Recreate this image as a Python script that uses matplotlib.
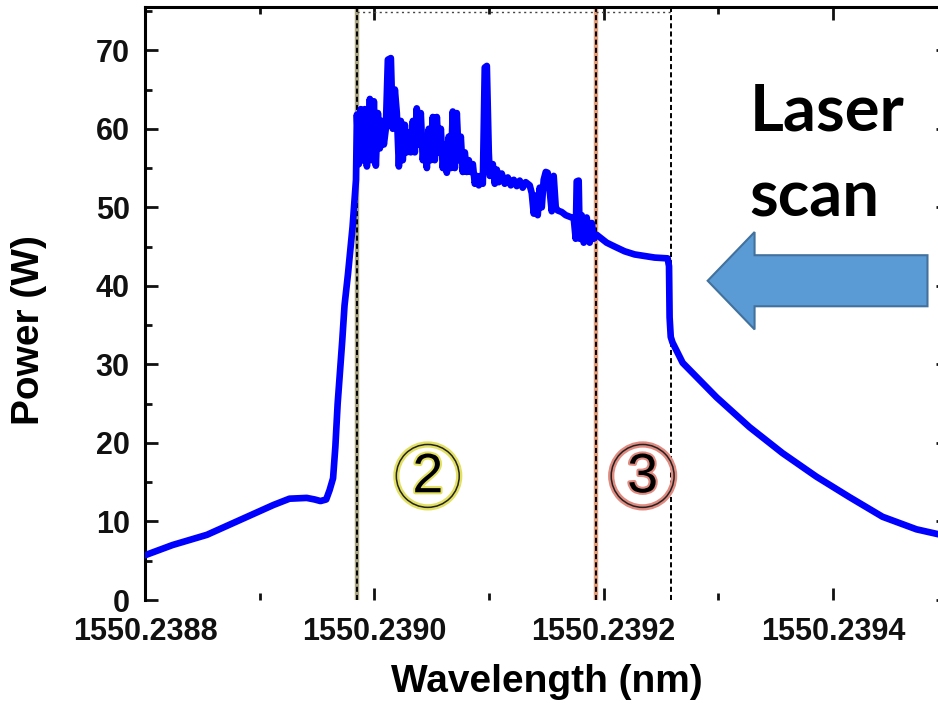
import matplotlib
matplotlib.use("Agg")
import numpy as np
import matplotlib.pyplot as plt
import matplotlib.patheffects as pe
from matplotlib.patches import FancyArrow
from matplotlib.ticker import MultipleLocator, FormatStrFormatter

plt.rcParams['font.family'] = ['Liberation Sans', 'DejaVu Sans']
plt.rcParams['font.weight'] = 'bold'

BASE_NM = 1550.2388
# wavelength offsets from BASE_NM in femtometres (1 fm = 1e-6 nm)
offset_fm = [
    0, 24, 54, 83, 112, 126, 141, 148, 153, 158, 161, 164, 166, 168, 170, 172,
    174, 177, 179, 181, 183, 184,
    184.8, 186.5, 188.2, 190.0, 191.7, 193.5, 195.2, 196.1, 197.8, 199.6,
    201.3, 203.1, 204.8, 206.5, 208.3, 210.0, 211.8, 214.4, 216.1, 217.9,
    219.6, 221.4, 223.1, 224.8, 226.6, 228.3, 230.1, 231.8, 233.6, 235.3,
    237.0, 238.8, 240.5, 242.3, 244.0, 245.8, 247.5, 249.2, 251.0, 252.7,
    254.5, 256.2, 258.0, 259.7, 261.5, 263.2, 264.9, 266.7, 268.4, 270.2,
    271.9, 273.7, 275.4, 277.1, 278.9, 280.6, 282.4, 284.1, 285.9, 287.6,
    289.3, 291.1, 292.8, 294.6, 296.3, 298.1, 299.8, 300.7, 303.3, 305.0,
    306.8, 308.5, 311.1, 313.7, 316.4, 319.0, 321.6, 324.2, 326.8, 329.4,
    332.0, 335.5, 337.3, 339.0, 340.8, 342.5, 344.2, 346.0, 347.7, 349.5,
    351.2, 353.0, 354.7, 356.4, 358.2, 359.9, 363.4, 366.9, 370.4, 373.9,
    375.6, 376.5, 378.2, 379.1, 380.8, 382.6, 385.2, 387.8, 389.6, 391.3,
    393.9, 396.5, 402.6, 409.6, 418.3, 427.0, 435.8, 444.5, 455.8, 457.0,
    457.5, 458.5, 460.0, 468.9, 498.5, 527.3, 556.0, 585.6, 614.4, 643.2,
    672.8, 691.1, 700,
]
power_w = [
    5.7, 7.0, 8.3, 10.2, 12.1, 12.9, 13.0, 12.8, 12.6, 12.8, 14.0, 15.5, 19.5,
    25.0, 29.0, 33.0, 37.5, 41.5, 44.5, 47.5, 51.5, 53.5,
    61.8, 55.5, 62.5, 56.0, 62.5, 55.2, 60.0, 63.8, 56.0, 63.5,
    55.3, 62.0, 57.5, 61.0, 58.0, 60.0, 68.8, 69.0, 60.0, 65.0,
    62.0, 55.2, 61.0, 56.0, 60.5, 57.0, 59.5, 57.0, 61.0, 57.0,
    62.6, 58.0, 62.0, 56.0, 59.0, 55.0, 60.0, 56.0, 61.5, 56.0,
    61.5, 57.0, 60.0, 55.0, 58.0, 54.4, 59.0, 55.0, 62.2, 55.0,
    62.0, 56.0, 59.0, 54.5, 57.0, 54.5, 56.0, 54.5, 55.5, 53.0,
    54.0, 52.8, 54.0, 53.0, 67.8, 68.0, 57.0, 54.0, 55.5, 53.0,
    54.8, 53.2, 54.3, 53.0, 53.8, 52.8, 53.5, 52.7, 53.4, 52.5,
    53.2, 52.8, 51.8, 49.2, 51.5, 49.0, 52.5, 50.0, 53.5, 54.5,
    54.4, 52.0, 49.5, 54.0, 50.0, 49.6, 49.4, 49.0, 48.8, 48.6,
    46.0, 53.3, 53.4, 46.0, 49.0, 45.5, 48.7, 45.5, 48.0, 46.0,
    46.5, 46.2, 45.5, 45.0, 44.4, 44.0, 43.8, 43.6, 43.5, 42.5,
    36.0, 33.5, 32.8, 30.2, 25.8, 22.0, 18.7, 15.7, 13.1, 10.6,
    9.0, 8.4, 8.1,
]

# region boundaries (dashed lines) and circled region labels
boundary_fm = [184.8, 393.0, 458.4]
boundary_under = ['#aaa684', '#e0a080', 'white']
region_labels = ['2', '3']
region_fm = [246.6, 434.0]
region_y = [15.8, 15.8]
region_ring = ['#e2e060', '#e08a80']

wavelength = BASE_NM + np.array(offset_fm) * 1e-6
bounds = BASE_NM + np.array(boundary_fm) * 1e-6
reg_x = BASE_NM + np.array(region_fm) * 1e-6

fig = plt.figure(figsize=(9.38, 7.11), dpi=100)
ax = fig.add_axes([0.1546, 0.1561, 0.8557, 0.834])

for xb, under in zip(bounds, boundary_under):
    ax.axvline(xb, color=under, lw=3.2, zorder=1)
    ax.axvline(xb, color='black', lw=1.4, ls=(0, (2.6, 1.6)), zorder=2)
ax.plot([bounds[0], bounds[2]], [74.9, 74.9], color='#444444', lw=1.0,
        ls=(0, (1.5, 2.5)), zorder=2)

ax.plot(wavelength, power_w, color='#0000ff', lw=4.8, zorder=3)

for lbl, xr, yr, ring in zip(region_labels, reg_x, region_y, region_ring):
    ax.scatter([xr], [yr], s=2050, facecolors='none', edgecolors=ring,
               linewidths=4.5, zorder=4)
    ax.scatter([xr], [yr], s=2050, facecolors='none', edgecolors='#222222',
               linewidths=1.1, zorder=5)
    ax.text(xr, yr - 0.3, lbl, fontsize=40, fontweight='normal', color='black',
            ha='center', va='center', zorder=6,
            path_effects=[pe.withStroke(linewidth=3, foreground=ring)])

# "Laser scan" note with left arrow
ax.text(BASE_NM + 527e-6, 59.8, 'Laser', fontsize=47, fontweight='bold',
        family=['Lato', 'DejaVu Sans'], ha='left', va='baseline', zorder=6)
ax.text(BASE_NM + 527e-6, 48.8, 'scan', fontsize=47, fontweight='bold',
        family=['Lato', 'DejaVu Sans'], ha='left', va='baseline', zorder=6)
arrow = FancyArrow(BASE_NM + 682.4e-6, 40.65, -191.7e-6, 0, width=6.5,
                   head_width=12.4, head_length=40.9e-6,
                   length_includes_head=True, facecolor='#5b9bd5',
                   edgecolor='#41719c', lw=1.5, zorder=6)
ax.add_patch(arrow)

ax.set_xlim(BASE_NM, BASE_NM + 0.0007)
ax.set_ylim(0, 75.5)
ax.xaxis.set_major_locator(MultipleLocator(0.0002))
ax.xaxis.set_minor_locator(MultipleLocator(0.0001))
ax.xaxis.set_major_formatter(FormatStrFormatter('%.4f'))
ax.yaxis.set_major_locator(MultipleLocator(10))
ax.yaxis.set_minor_locator(MultipleLocator(5))
ax.tick_params(which='both', direction='in', top=True, right=True,
               width=2, labelsize=22, colors='#111111')
ax.tick_params(axis='x', pad=12)
ax.tick_params(axis='y', pad=11)
ax.tick_params(which='major', length=9)
ax.tick_params(which='minor', length=5)

ax.spines['bottom'].set_visible(False)
for side in ['left', 'top', 'right']:
    ax.spines[side].set_linewidth(2.2)

ax.set_xlabel('Wavelength (nm)', fontsize=28, fontweight='bold')
ax.set_ylabel('Power (W)', fontsize=28, fontweight='bold')
ax.xaxis.set_label_coords(0.5, -0.108)
ax.yaxis.set_label_coords(-0.122, 0.455)

fig.savefig('out.png', dpi=100)
